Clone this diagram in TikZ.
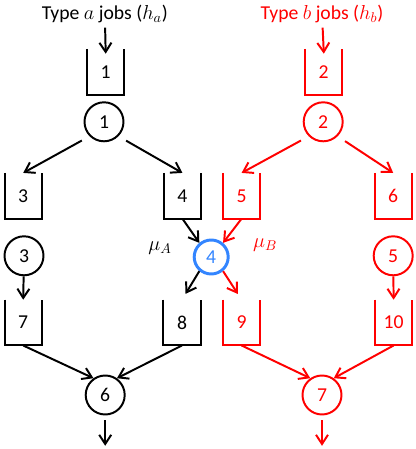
\documentclass[tikz,border=0pt]{standalone}
\usepackage{amsmath}
\usepackage{fontspec}
\setmainfont{Carlito}
\usepackage{xcolor}
\usetikzlibrary{arrows, arrows.meta, calc}

\definecolor{srvblue}{RGB}{51,133,255}

\tikzset{
  every node/.style={font=\fontsize{14}{16}\selectfont},
  buffer/.style={minimum width=0.92cm, minimum height=1.13cm, inner sep=0pt},
  server/.style={circle, draw, line width=1.4pt, minimum size=0.975cm, inner sep=0pt},
  flow/.style={->, line width=1.4pt},
  >={Straight Barb[length=2.3mm,width=3mm]}
}

\begin{document}
\begin{tikzpicture}
    \useasboundingbox (0,0) rectangle (10.4,11.225);
    % type a side
    \node (ta) at (2.62,10.88) {Type $a$ jobs ($h_a$)};
    \node[buffer] (b1) at (2.64,9.43) {1};
    \node[server] (s1) at (2.6,8.18) {1};
    \node[buffer] (b3) at (0.58,6.33) {3};
    \node[buffer] (b4) at (4.56,6.33) {4};
    \node[server] (s3) at (0.6,4.83) {3};
    \node[buffer] (b7) at (0.58,3.16) {7};
    \node[buffer] (b8) at (4.55,3.16) {8};
    \node[server] (s6) at (2.63,1.35) {6};
    \coordinate (o6) at (2.63,0.08);
    \node (muA) at (4.0,5.03) {$\mu_A$};
    % shared server
    \node[server, draw=srvblue, text=srvblue, line width=2.1pt, minimum size=0.85cm] (s4) at (5.28,4.8) {4};
    % type b side
    \begin{scope}[red]
    \node[text=red] (tb) at (8.05,10.88) {Type $b$ jobs ($h_b$)};
    \node[buffer, text=red] (b2) at (8.09,9.43) {2};
    \node[server, text=red] (s2) at (8.08,8.18) {2};
    \node[buffer, text=red] (b5) at (6.04,6.33) {5};
    \node[buffer, text=red] (b6) at (9.83,6.33) {6};
    \node[server, text=red] (s5) at (9.83,4.83) {5};
    \node[buffer, text=red] (b9) at (6.04,3.16) {9};
    \node[buffer, text=red] (b10) at (9.84,3.16) {10};
    \node[server, text=red] (s7) at (8.05,1.35) {7};
    \coordinate (o7) at (8.05,0.08);
    \node[text=red] (muB) at (6.63,5.1) {$\mu_B$};
    \end{scope}

    % open-top buffers
    \foreach \b in {b1,b3,b4,b7,b8}
      \draw[line width=1.4pt] (\b.north west) -- (\b.south west) -- (\b.south east) -- (\b.north east);
    \foreach \b in {b2,b5,b6,b9,b10}
      \draw[red, line width=1.4pt] (\b.north west) -- (\b.south west) -- (\b.south east) -- (\b.north east);

    % type a flows
    \draw[flow, shorten >=-0.12cm] (ta) -- (b1.north);
    \draw[flow, shorten <=0.22cm] (s1.225) -- (b3.north);
    \draw[flow, shorten <=0.22cm] (s1.-45) -- (b4.north);
    \draw[flow] (s3) -- (b7.north);
    \draw[flow] (b4.south) -- (s4.130);
    \draw[flow, shorten >=0.17cm] (s4.230) -- (b8.north);
    \draw[flow] (b7.south) -- (s6.125);
    \draw[flow] (b8.south) -- (s6.55);
    \draw[flow, shorten <=0.12cm] (s6) -- (o6);

    % type b flows
    \draw[flow, red, shorten >=-0.12cm] (tb) -- (b2.north);
    \draw[flow, red, shorten <=0.22cm] (s2.225) -- (b5.north);
    \draw[flow, red, shorten <=0.22cm] (s2.-45) -- (b6.north);
    \draw[flow, red] (s5) -- (b10.north);
    \draw[flow, red] (b5.south) -- (s4.50);
    \draw[flow, red, shorten >=0.17cm] (s4.-50) -- (b9.north);
    \draw[flow, red] (b9.south) -- (s7.125);
    \draw[flow, red] (b10.south) -- (s7.55);
    \draw[flow, red, shorten <=0.12cm] (s7) -- (o7);
\end{tikzpicture}
\end{document}
